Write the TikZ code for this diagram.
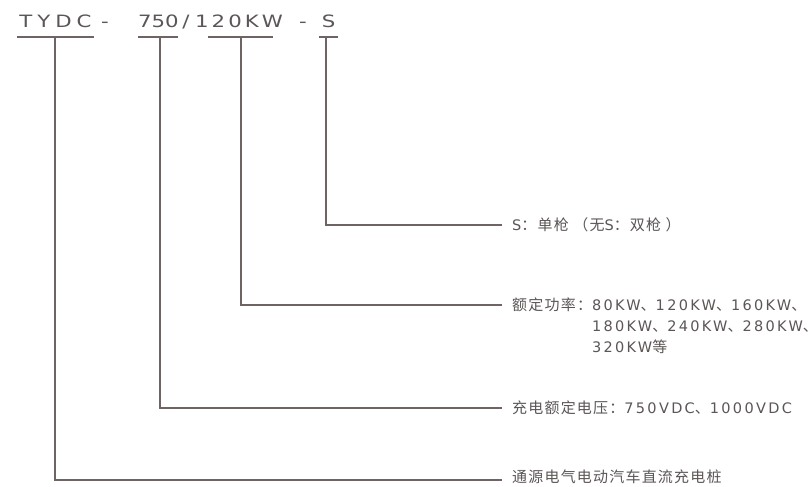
\documentclass[tikz,border=0pt]{standalone}
\usepackage{fontspec}
\setmainfont{DejaVu Sans}
\newfontfamily\cjkfont[LetterSpace=8]{Noto Sans CJK SC}
\newfontfamily\latfont[LetterSpace=16]{DejaVu Sans}
\newfontfamily\titlefont[FakeStretch=1.25]{DejaVu Sans}
\usetikzlibrary{positioning}

\definecolor{inkgray}{RGB}{92,86,86}
\definecolor{linegray}{RGB}{110,100,100}

\newcommand{\lat}[1]{{\latfont\fontsize{14.5}{21}\selectfont #1}}
\newcommand{\spread}[2]{\makebox[#1][s]{#2}}

\begin{document}
\begin{tikzpicture}[x=1pt, y=-1pt,
  code/.style={inner sep=0pt, anchor=base, text=inkgray, font=\titlefont\fontsize{17}{17}\selectfont},
  note/.style={inner sep=0pt, anchor=base west, text=inkgray, font=\cjkfont\fontsize{15}{21}\selectfont},
  link/.style={draw=linegray, line width=1.5pt}]

\useasboundingbox[fill=white] (0,0) rectangle (811,487);

% model code
\node[code] (tydc) at (55.5,28) {\spread{72pt}{T\hfil Y\hfil D\hfil C}};
\node[code] (dash1) at (105,28) {-};
\node[code] (volt) at (157.5,28) {\spread{39pt}{7\hfil 5\hfil 0}};
\node[code] (slash) at (186,28) {/};
\node[code] (power) at (239,28) {\spread{88pt}{1\hfil 2\hfil 0\hfil K\hfil W}};
\node[code] (dash2) at (303,28) {-};
\node[code] (gun) at (328.5,28) {S};

% notes
\node[note] (gun-note) at (512,230) {\lat{S}：单枪\ （无\lat{S}：双枪\ ）};
\node[note] (power-note) at (512,310) {\begin{tabular}[t]{@{}l@{}l@{}}额定功率：&\lat{80KW}、\lat{120KW}、\lat{160KW}、\\ &\lat{180KW}、\lat{240KW}、\lat{280KW}、\\ &\lat{320KW}等\end{tabular}};
\node[note] (volt-note) at (512,413) {充电额定电压：\lat{750VDC}、\lat{1000VDC}};
\node[note] (tydc-note) at (512,482) {通源电气电动汽车直流充电桩};

% underlines
\draw[link] ([shift={(-2,9)}]tydc.base west) -- ([shift={(2,9)}]tydc.base east);
\draw[link] ([shift={(0,9)}]volt.base west) -- ([shift={(1,9)}]volt.base east);
\draw[link] ([shift={(13,9)}]power.base west) -- ([shift={(-10,9)}]power.base east);
\draw[link] ([shift={(-3,9)}]gun.base west) -- ([shift={(3,9)}]gun.base east);

% leaders
\draw[link] ([shift={(-2.5,9)}]gun.base) |- ([shift={(-10,-5)}]gun-note.base west);
\draw[link] ([shift={(2,9)}]power.base) |- ([shift={(-10,-5)}]power-note.base west);
\draw[link] ([shift={(2.5,9)}]volt.base) |- ([shift={(-10,-5)}]volt-note.base west);
\draw[link] ([shift={(-0.5,9)}]tydc.base) |- ([shift={(-10,-2)}]tydc-note.base west);
\end{tikzpicture}
\end{document}
